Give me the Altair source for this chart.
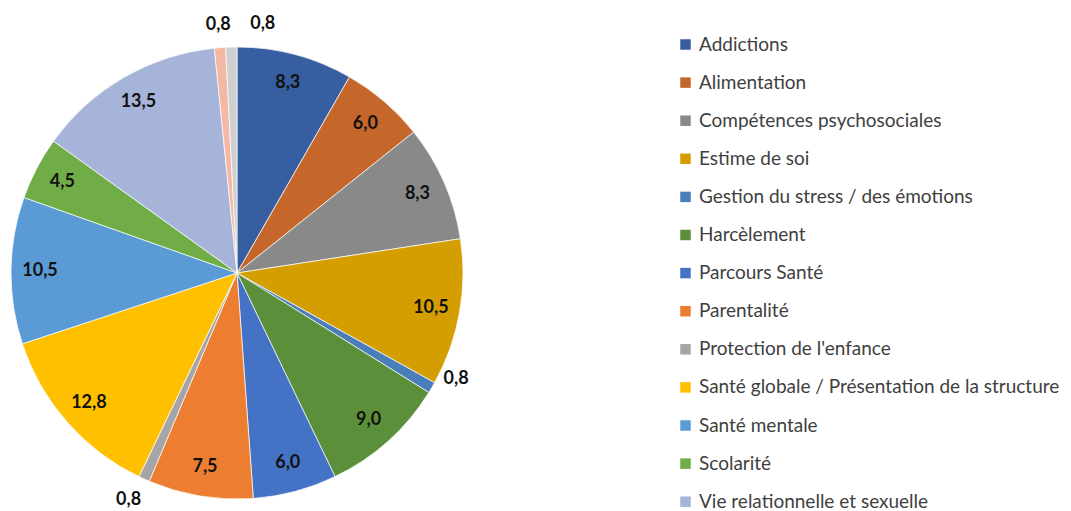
import altair as alt
import pandas as pd

categories = [
    "Addictions",
    "Alimentation",
    "Compétences psychosociales",
    "Estime de soi",
    "Gestion du stress / des émotions",
    "Harcèlement",
    "Parcours Santé",
    "Parentalité",
    "Protection de l'enfance",
    "Santé globale / Présentation de la structure",
    "Santé mentale",
    "Scolarité",
    "Vie relationnelle et sexuelle",
    "Autre thème (1)",
    "Autre thème (2)",
]
values = [8.3, 6.0, 8.3, 10.5, 0.8, 9.0, 6.0, 7.5, 0.8, 12.8, 10.5, 4.5, 13.5, 0.8, 0.8]
colors = [
    "#365EA0", "#C5672A", "#898989", "#D49E00", "#4A7EBB", "#5C8F3A",
    "#4472C4", "#ED7D31", "#A5A5A5", "#FFC000", "#5B9BD5", "#70AD47",
    "#A7B4D9", "#F4B9A4", "#CFCFCF",
]
legend_items = categories[:13]

df = pd.DataFrame({"cat": categories, "value": values, "idx": list(range(len(categories)))})

CX, CY = 229, 265

base = alt.Chart(df).encode(
    theta=alt.Theta("value:Q", stack=True),
    order=alt.Order("idx:Q"),
    x=alt.value(CX),
    y=alt.value(CY),
).transform_calculate(
    lbl="replace(format(datum.value, '.1f'), '.', ',')"
)

arc = base.mark_arc(outerRadius=226, stroke="white", strokeWidth=0.7).encode(
    color=alt.Color(
        "cat:N",
        scale=alt.Scale(domain=categories, range=colors),
        legend=alt.Legend(
            title=None,
            values=legend_items,
            orient="none",
            legendX=668,
            legendY=27,
            symbolType="square",
            symbolSize=110,
            symbolStrokeWidth=0,
            labelFontSize=19,
            labelFont="Lato",
            labelColor="#404040",
            labelOffset=4,
            rowPadding=18.1,
            labelLimit=600,
            padding=0,
        ),
    )
)

txt_style = dict(fontSize=18, fontWeight="bold", font="Lato", color="#111111")

inside = base.transform_calculate(
    t="datum.value >= 1 ? datum.lbl : ''"
).mark_text(radius=197, **txt_style).encode(text="t:N")

small_a = base.transform_calculate(
    t="datum.idx == 13 ? datum.lbl : ''"
).mark_text(radius=249, **txt_style).encode(text="t:N")

small_prot = base.transform_calculate(
    t="datum.idx == 8 ? datum.lbl : ''"
).mark_text(radius=249, dx=-6, dy=0, **txt_style).encode(text="t:N")

small_gestion = base.transform_calculate(
    t="datum.idx == 4 ? datum.lbl : ''"
).mark_text(radius=245, dx=8, dy=-18, **txt_style).encode(text="t:N")

small_grey = base.transform_calculate(
    t="datum.idx == 14 ? datum.lbl : ''"
).mark_text(radius=249, dx=32, **txt_style).encode(text="t:N")

chart = alt.layer(arc, inside, small_a, small_prot, small_gestion, small_grey).properties(
    width=1055, height=503, padding=0,
    autosize=alt.AutoSizeParams(type="none"),
    background="white",
).configure_view(stroke=None)

chart.save("out.html", embed_options={"renderer": "svg", "actions": False})
